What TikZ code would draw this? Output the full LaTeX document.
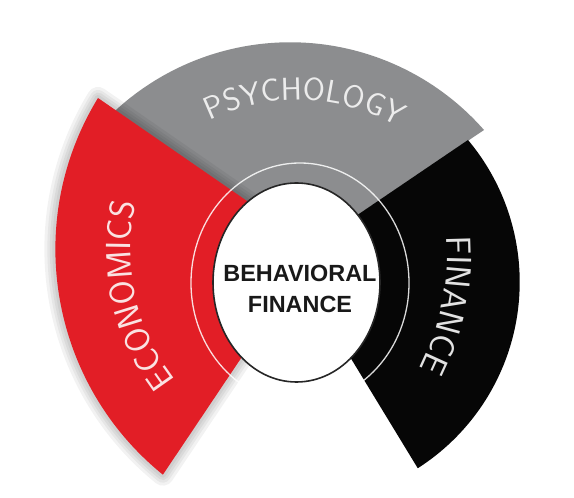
\documentclass[tikz,border=0pt]{standalone}
\usepackage{fontspec}
\setmainfont{Liberation Sans}
\usetikzlibrary{shapes.geometric}
\usetikzlibrary{decorations.text}

\definecolor{econred}{RGB}{226,30,38}
\definecolor{psygray}{RGB}{140,141,143}
\definecolor{finblack}{RGB}{6,6,6}
\definecolor{psytext}{RGB}{236,236,236}
\definecolor{econtext}{RGB}{250,226,226}
\definecolor{fintext}{RGB}{226,226,226}
\newcommand\arcfont[1]{\sffamily\fontsize{#1}{#1}\selectfont}

\begin{document}
\begin{tikzpicture}[x=1bp,y=1bp]
\tikzset{every node/.style={inner sep=0pt, outer sep=0pt}}
\tikzset{halo/.style={draw=black, draw opacity=0.05, line join=round}}
\tikzset{ring/.style={draw=white, draw opacity=0.85, line width=1.3bp}}
\tikzset{core/.style={ellipse, fill=white, draw=black!85, line width=1.6bp, minimum width=167bp, minimum height=199bp}}
\tikzset{arclabel/.style 2 args={decorate, decoration={text along path, text align=center, text color=#2, text={#1}}}}
\useasboundingbox (0,0) rectangle (574,498);

\coordinate (psy c) at (298,198);
\coordinate (econ apex) at (315,250);
\coordinate (econ c) at (345.6,248.6);
\coordinate (fin apex) at (291,238);
\coordinate (fin c) at (190,245);

% psychology, top
\fill[psygray] (fin apex) -- (484,368) arc[start angle=41.3, end angle=140, radius=258bp] -- cycle;
% soft shadow round the red piece
\foreach \w in {22,16,11,6}
  \path[halo, line width=\w bp] (econ apex) -- (98,400) arc[start angle=148.55, end angle=231, radius=290bp] -- cycle;
% economics, left
\fill[econred] (econ apex) -- (98,400) arc[start angle=148.55, end angle=231, radius=290bp] -- cycle;
% finance, right
\fill[finblack] (fin apex) -- (468,358) arc[start angle=40, end angle=-57.4, radius=221bp] -- cycle;

\draw[ring] (300,215) ellipse[x radius=109bp, y radius=120bp];
\node[core] (core) at (296.5,215.5) {};
\node[align=center, text=black!90, font=\fontsize{23.5}{32}\selectfont\bfseries] (title) at (300,209) {BEHAVIORAL\\FINANCE};

\path[arclabel={|\arcfont{32}|PSYCHOLOGY}{psytext}] ([shift={(150:200)}]psy c) arc[start angle=150, end angle=26, radius=200bp];
\path[arclabel={|\arcfont{35}|ECONOMICS}{econtext}] ([shift={(228:215)}]econ c) arc[start angle=228, end angle=157, radius=215bp];
\path[arclabel={|\arcfont{35}|FINANCE}{fintext}] ([shift={(20:257)}]fin c) arc[start angle=20, end angle=-43, radius=257bp];
\end{tikzpicture}
\end{document}
